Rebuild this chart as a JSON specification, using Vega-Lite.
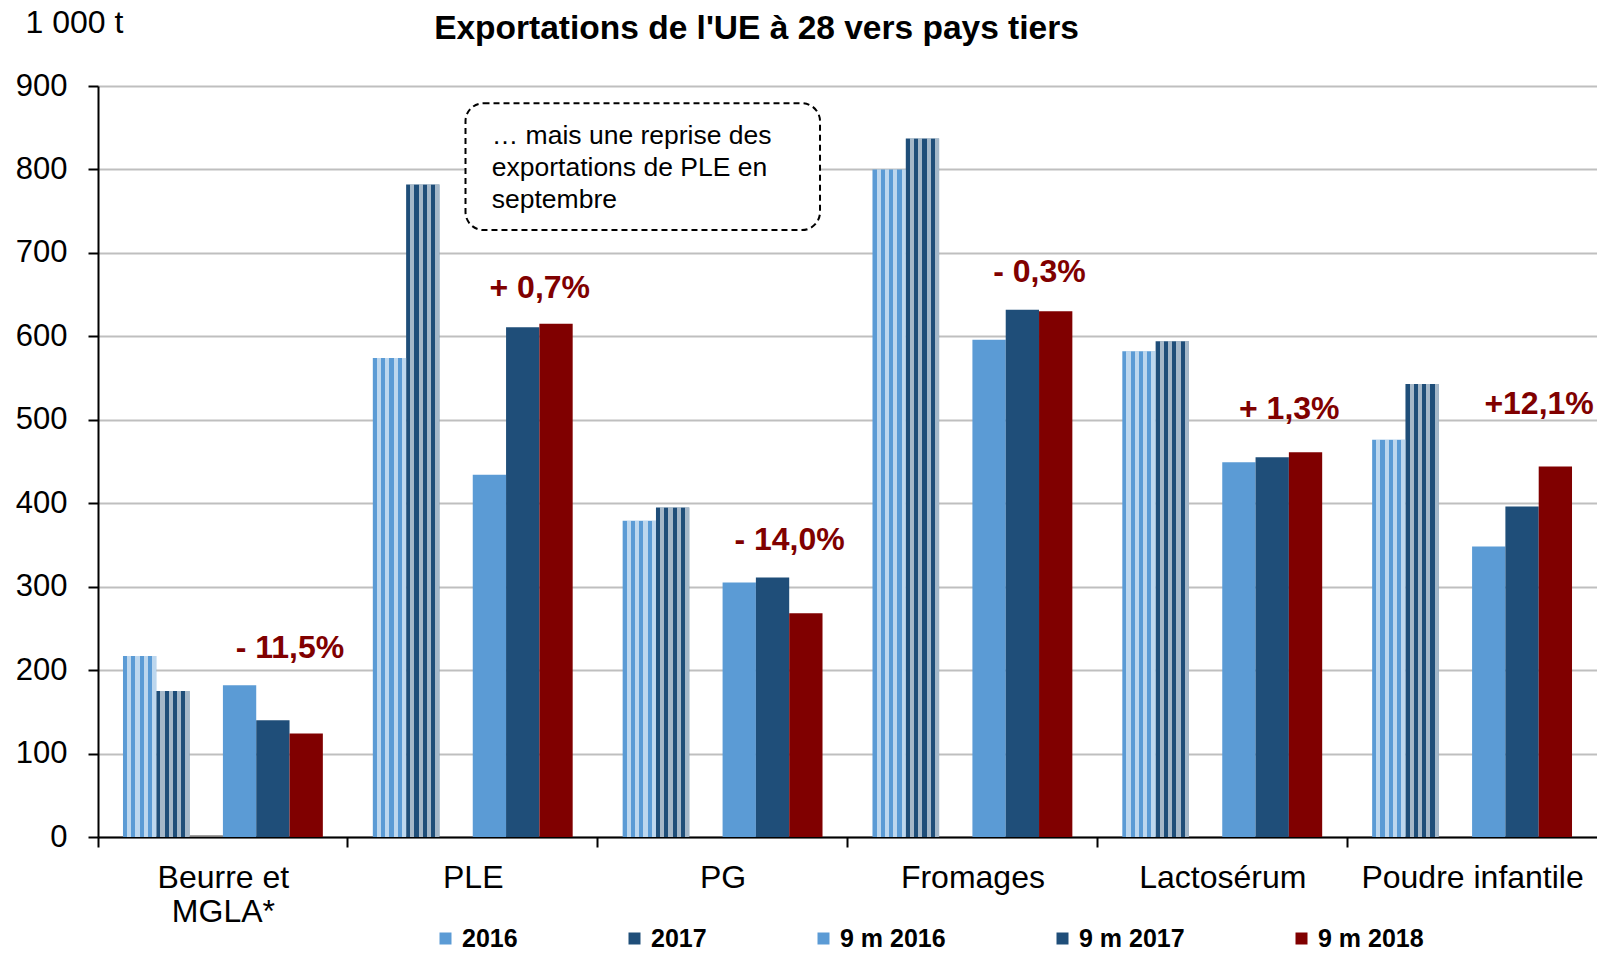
{
  "$schema": "https://vega.github.io/schema/vega-lite/v6.json",
  "width": 1499,
  "height": 751,
  "autosize": "none",
  "padding": {"left": 98, "top": 86, "right": 0, "bottom": 116},
  "background": "white",
  "config": {
    "font": "Liberation Sans",
    "view": {"stroke": null},
    "axis": {"labelFont": "Liberation Sans", "titleFont": "Liberation Sans"},
    "legend": {"labelFont": "Liberation Sans"},
    "text": {"font": "Liberation Sans"}
  },
  "datasets": {
    "bars": [
      {"cat": "Beurre et MGLA*", "serie": "2016", "v": 217},
      {"cat": "Beurre et MGLA*", "serie": "2017", "v": 175},
      {"cat": "Beurre et MGLA*", "serie": "gap", "v": 2},
      {"cat": "Beurre et MGLA*", "serie": "9 m 2016", "v": 182},
      {"cat": "Beurre et MGLA*", "serie": "9 m 2017", "v": 140},
      {"cat": "Beurre et MGLA*", "serie": "9 m 2018", "v": 124},
      {"cat": "PLE", "serie": "2016", "v": 574},
      {"cat": "PLE", "serie": "2017", "v": 782},
      {"cat": "PLE", "serie": "9 m 2016", "v": 434},
      {"cat": "PLE", "serie": "9 m 2017", "v": 611},
      {"cat": "PLE", "serie": "9 m 2018", "v": 615},
      {"cat": "PG", "serie": "2016", "v": 379},
      {"cat": "PG", "serie": "2017", "v": 395},
      {"cat": "PG", "serie": "9 m 2016", "v": 305},
      {"cat": "PG", "serie": "9 m 2017", "v": 311},
      {"cat": "PG", "serie": "9 m 2018", "v": 268},
      {"cat": "Fromages", "serie": "2016", "v": 800},
      {"cat": "Fromages", "serie": "2017", "v": 837},
      {"cat": "Fromages", "serie": "9 m 2016", "v": 596},
      {"cat": "Fromages", "serie": "9 m 2017", "v": 632},
      {"cat": "Fromages", "serie": "9 m 2018", "v": 630},
      {"cat": "Lactosérum", "serie": "2016", "v": 582},
      {"cat": "Lactosérum", "serie": "2017", "v": 594},
      {"cat": "Lactosérum", "serie": "9 m 2016", "v": 449},
      {"cat": "Lactosérum", "serie": "9 m 2017", "v": 455},
      {"cat": "Lactosérum", "serie": "9 m 2018", "v": 461},
      {"cat": "Poudre infantile", "serie": "2016", "v": 476},
      {"cat": "Poudre infantile", "serie": "2017", "v": 543},
      {"cat": "Poudre infantile", "serie": "9 m 2016", "v": 348},
      {"cat": "Poudre infantile", "serie": "9 m 2017", "v": 396},
      {"cat": "Poudre infantile", "serie": "9 m 2018", "v": 444}
    ],
    "pct": [
      {"cat": "Beurre et MGLA*", "label": "- 11,5%", "v": 226.5},
      {"cat": "PLE", "label": "+ 0,7%", "v": 658.5},
      {"cat": "PG", "label": "- 14,0%", "v": 356},
      {"cat": "Fromages", "label": "- 0,3%", "v": 677.5},
      {"cat": "Lactosérum", "label": "+ 1,3%", "v": 513},
      {"cat": "Poudre infantile", "label": "+12,1%", "v": 519}
    ],
    "note": [
      {"x1": 1.471, "x2": 2.89, "v": 879.3, "v2": 727.4, "tx": 1.576, "ty": 840}
    ]
  },
  "layer": [
    {
      "data": {"name": "bars"},
      "mark": {"type": "bar"},
      "encoding": {
        "x": {
          "field": "cat", "type": "nominal",
          "scale": {"domain": ["Beurre et MGLA*", "PLE", "PG", "Fromages", "Lactosérum", "Poudre infantile"], "paddingInner": 0, "paddingOuter": 0},
          "axis": {"orient": "bottom", "labels": false, "bandPosition": 0, "ticks": true, "tickSize": 10, "tickWidth": 2, "tickColor": "black", "domain": true, "domainColor": "black", "domainWidth": 2, "grid": false, "title": null}
        },
        "xOffset": {
          "field": "serie", "type": "nominal",
          "scale": {"domain": ["2016", "2017", "gap", "9 m 2016", "9 m 2017", "9 m 2018"], "paddingInner": 0, "paddingOuter": 0.75}
        },
        "y": {
          "field": "v", "type": "quantitative",
          "scale": {"domain": [0, 900], "nice": false},
          "axis": {
            "orient": "left",
            "values": [0, 100, 200, 300, 400, 500, 600, 700, 800, 900],
            "grid": true, "gridColor": "#BFBFBF", "gridWidth": 2,
            "domain": true, "domainColor": "black", "domainWidth": 2,
            "ticks": true, "tickColor": "black", "tickWidth": 2, "tickSize": 10,
            "labelFontSize": 31, "labelColor": "black", "labelPadding": 21,
            "title": "1 000 t", "titleAngle": 0, "titleX": -73, "titleY": -54,
            "titleAlign": "left", "titleBaseline": "alphabetic",
            "titleFontSize": 32, "titleFontWeight": "normal", "titleColor": "black"
          }
        },
        "color": {
          "field": "serie", "type": "nominal",
          "scale": {
            "domain": ["2016", "2017", "9 m 2016", "9 m 2017", "9 m 2018", "gap"],
            "range": ["#5B9BD5", "#1F4E79", "#5B9BD5", "#1F4E79", "#800000", "#808080"]
          },
          "legend": {
            "values": ["2016", "2017", "9 m 2016", "9 m 2017", "9 m 2018"],
            "orient": "none", "legendX": 335, "legendY": 840,
            "direction": "horizontal", "title": null, "padding": 0,
            "symbolType": "square", "symbolSize": 144, "symbolStrokeWidth": 0,
            "labelFontSize": 25, "labelFontWeight": "bold", "labelColor": "black",
            "columnPadding": 104, "gridAlign": "none", "labelOffset": 4
          }
        }
      }
    },
    {
      "data": {"name": "bars"},
      "transform": [{"filter": "datum.serie == '2016' || datum.serie == '2017'"}],
      "mark": {
        "type": "bar",
        "fill": {
          "gradient": "linear", "x1": 0, "y1": 0, "x2": 1, "y2": 0,
          "stops": [
            {"offset": 0, "color": "rgba(255,255,255,0)"},
            {"offset": 0.125, "color": "rgba(255,255,255,0)"},
            {"offset": 0.125, "color": "rgba(255,255,255,0.6)"},
            {"offset": 0.25, "color": "rgba(255,255,255,0.6)"},
            {"offset": 0.25, "color": "rgba(255,255,255,0)"},
            {"offset": 0.375, "color": "rgba(255,255,255,0)"},
            {"offset": 0.375, "color": "rgba(255,255,255,0.6)"},
            {"offset": 0.5, "color": "rgba(255,255,255,0.6)"},
            {"offset": 0.5, "color": "rgba(255,255,255,0)"},
            {"offset": 0.625, "color": "rgba(255,255,255,0)"},
            {"offset": 0.625, "color": "rgba(255,255,255,0.6)"},
            {"offset": 0.75, "color": "rgba(255,255,255,0.6)"},
            {"offset": 0.75, "color": "rgba(255,255,255,0)"},
            {"offset": 0.875, "color": "rgba(255,255,255,0)"},
            {"offset": 0.875, "color": "rgba(255,255,255,0.6)"},
            {"offset": 1, "color": "rgba(255,255,255,0.6)"}
          ]
        }
      },
      "encoding": {
        "x": {"field": "cat", "type": "nominal", "scale": {"domain": ["Beurre et MGLA*", "PLE", "PG", "Fromages", "Lactosérum", "Poudre infantile"], "paddingInner": 0, "paddingOuter": 0}, "axis": null},
        "xOffset": {"field": "serie", "type": "nominal", "scale": {"domain": ["2016", "2017", "gap", "9 m 2016", "9 m 2017", "9 m 2018"], "paddingInner": 0, "paddingOuter": 0.75}},
        "y": {"field": "v", "type": "quantitative"}
      }
    },
    {
      "data": {"name": "pct"},
      "mark": {"type": "text", "fontSize": 32, "fontWeight": "bold", "color": "#800000", "dx": 67, "align": "center", "baseline": "middle"},
      "encoding": {
        "x": {
          "field": "cat", "type": "nominal",
          "scale": {"domain": ["Beurre et MGLA*", "PLE", "PG", "Fromages", "Lactosérum", "Poudre infantile"], "paddingInner": 0, "paddingOuter": 0},
          "axis": {
            "orient": "bottom",
            "labels": true, "labelFontSize": 32, "labelColor": "black", "labelPadding": 25,
            "labelLineHeight": 34, "labelAngle": 0, "labelLimit": 0,
            "labelExpr": "datum.label == 'Beurre et MGLA*' ? ['Beurre et', 'MGLA*'] : datum.label",
            "ticks": false, "tickSize": 0, "domain": false, "grid": false,
            "title": "Exportations de l'UE à 28 vers pays tiers",
            "titleX": 658, "titleY": -798.5, "titleAlign": "center", "titleBaseline": "alphabetic",
            "titleFontSize": 33.5, "titleFontWeight": "bold", "titleColor": "black"
          }
        },
        "y": {"field": "v", "type": "quantitative"},
        "text": {"field": "label", "type": "nominal"}
      }
    },
    {
      "data": {"name": "note"},
      "mark": {"type": "rect", "fill": "white", "stroke": "black", "strokeWidth": 2, "strokeDash": [6, 4], "cornerRadius": 18},
      "encoding": {
        "x": {"field": "x1", "type": "quantitative", "scale": {"domain": [0, 6], "nice": false, "zero": false}, "axis": null},
        "x2": {"field": "x2"},
        "y": {"field": "v", "type": "quantitative"},
        "y2": {"field": "v2"}
      }
    },
    {
      "data": {"name": "note"},
      "mark": {"type": "text", "align": "left", "baseline": "middle", "fontSize": 26.5, "lineHeight": 32, "color": "black",
               "text": ["… mais une reprise des", "exportations de PLE en", "septembre"]},
      "encoding": {
        "x": {"field": "tx", "type": "quantitative", "scale": {"domain": [0, 6], "nice": false, "zero": false}, "axis": null},
        "y": {"field": "ty", "type": "quantitative"}
      }
    }
  ],
  "resolve": {"scale": {"x": "independent"}, "axis": {"x": "independent"}}
}
